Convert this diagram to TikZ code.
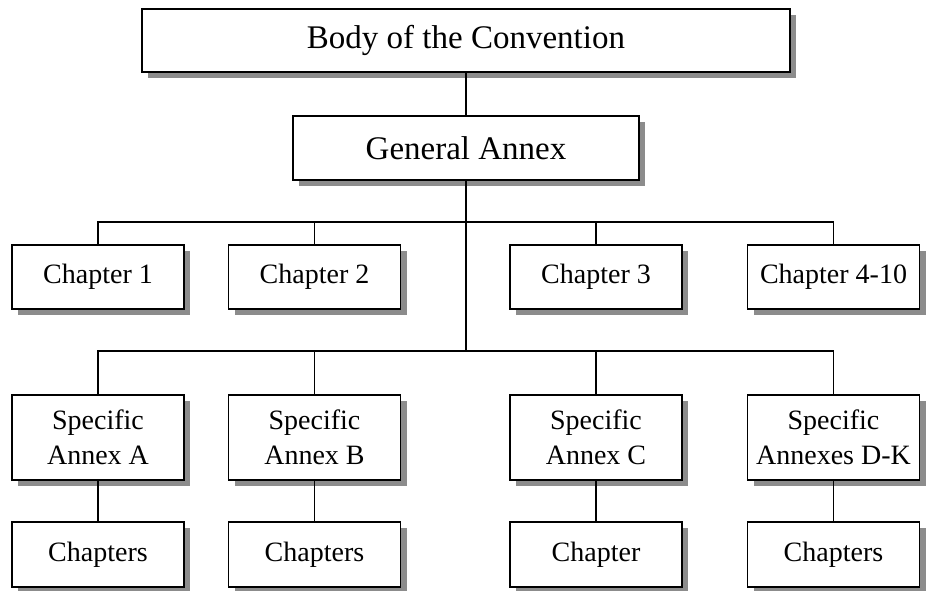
\documentclass[tikz,border=0pt]{standalone}
\usepackage{fontspec}
\setmainfont{Liberation Serif}
\usetikzlibrary{shadows}
\begin{document}
\begin{tikzpicture}[x=1pt,y=-1pt,
  box/.style={draw=black, line width=1.6pt, fill=white, inner sep=0pt, align=center,
    drop shadow={shadow xshift=6pt, shadow yshift=-6pt, fill=black!45, opacity=1}},
  bigbox/.style={box, font=\fontsize{33}{40}\selectfont},
  smallbox/.style={box, font=\fontsize{28}{35}\selectfont, minimum width=172pt},
  conn/.style={line width=1.6pt, draw=black}]
\useasboundingbox (0,0) rectangle (936,590);
\node[bigbox, minimum width=648pt, minimum height=63pt] (body) at (466,40.5) {Body of the Convention};
\node[bigbox, minimum width=346pt, minimum height=64pt] (ga) at (466,148) {General Annex};
\node[smallbox, minimum height=64pt] (c1) at (98,277) {Chapter 1};
\node[smallbox, minimum height=64pt] (c2) at (314.5,277) {Chapter 2};
\node[smallbox, minimum height=64pt] (c3) at (596,277) {Chapter 3};
\node[smallbox, minimum height=64pt] (c4) at (833.5,277) {Chapter 4-10};
\node[smallbox, minimum height=85pt] (sa) at (98,437.5) {Specific\\Annex A};
\node[smallbox, minimum height=85pt] (sb) at (314.5,437.5) {Specific\\Annex B};
\node[smallbox, minimum height=85pt] (sc) at (596,437.5) {Specific\\Annex C};
\node[smallbox, minimum height=85pt] (sd) at (833.5,437.5) {Specific\\Annexes D-K};
\node[smallbox, minimum height=65pt] (ca) at (98,554.5) {Chapters};
\node[smallbox, minimum height=65pt] (cb) at (314.5,554.5) {Chapters};
\node[smallbox, minimum height=65pt] (cc) at (596,554.5) {Chapter};
\node[smallbox, minimum height=65pt] (cd) at (833.5,554.5) {Chapters};
\coordinate (bus1) at (466,222);
\coordinate (bus2) at (466,351);
\draw[conn] (body.south) -- (ga.north);
\draw[conn] (ga.south) -- (bus2);
\draw[conn] (c1.north) |- (c4.north |- bus1) -- (c4.north);
\draw[conn] (c2.north) -- (c2.north |- bus1);
\draw[conn] (c3.north) -- (c3.north |- bus1);
\draw[conn] (sa.north) |- (sd.north |- bus2) -- (sd.north);
\draw[conn] (sb.north) -- (sb.north |- bus2);
\draw[conn] (sc.north) -- (sc.north |- bus2);
\draw[conn] (sa.south) -- (ca.north);
\draw[conn] (sb.south) -- (cb.north);
\draw[conn] (sc.south) -- (cc.north);
\draw[conn] (sd.south) -- (cd.north);
\end{tikzpicture}
\end{document}
